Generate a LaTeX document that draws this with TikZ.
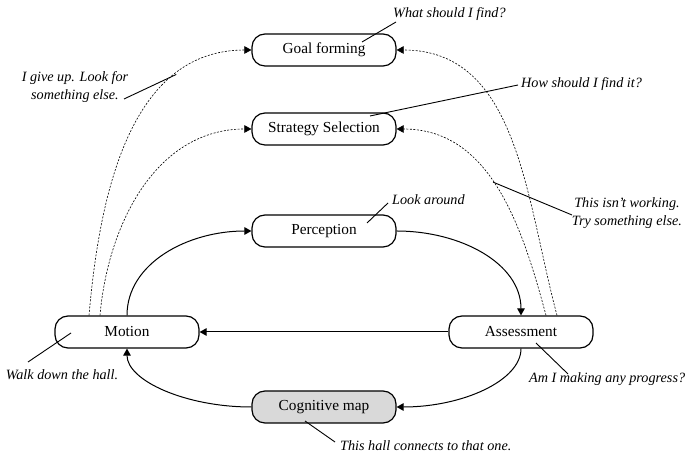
\documentclass[tikz,border=0pt]{standalone}
\usepackage{fontspec}
\setmainfont{Liberation Serif}
\usetikzlibrary{arrows.meta}
\begin{document}
\begin{tikzpicture}[x=1bp,y=1bp,
  stage/.style={draw, line width=1.2bp, rounded corners=13bp, minimum width=144bp,
    minimum height=32bp, inner sep=0pt, font=\fontsize{15.3bp}{18bp}\selectfont},
  mapstage/.style={stage, fill=black!15},
  flow/.style={line width=1bp, -{Triangle[length=7bp,width=7.5bp]}},
  retry/.style={line width=0.6bp, dash pattern=on 2bp off 1.5bp,
    -{Triangle[length=7bp,width=7.5bp]}},
  note/.style={inner sep=0pt, font=\itshape\fontsize{14.2bp}{17.5bp}\selectfont},
  pointer/.style={line width=0.9bp}]
\useasboundingbox (0,0) rectangle (686,459);

% stages of the wayfinding cycle
\node[stage]    (goal)   at (324,409) {Goal forming};
\node[stage]    (strat)  at (324,330) {Strategy Selection};
\node[stage]    (perc)   at (324,228) {Perception};
\node[stage]    (motion) at (127,127) {Motion};
\node[stage]    (assess) at (521,127) {Assessment};
\node[mapstage] (cog)    at (324,52)  {Cognitive map};

% main loop
\draw[flow] (motion.north) .. controls +(0,52) and +(-64,0) .. (perc.west);
\draw[flow] (perc.east) .. controls +(64,0) and +(0,52) .. (assess.north);
\draw[flow] (assess.west) -- (motion.east);
\draw[flow] (assess.south) .. controls +(0,-32) and +(66,0) .. (cog.east);
\draw[flow] (cog.west) .. controls +(-66,0) and +(0,-32) .. (motion.south);

% fallback paths back to planning
\draw[retry] ([xshift=-38bp]motion.north) to[out=85,in=180]
  coordinate[pos=0.75] (giveupPt) (goal.west);
\draw[retry] ([xshift=-27bp]motion.north) to[out=85,in=180] (strat.west);
\draw[retry] ([xshift=36bp]assess.north) to[out=105,in=0] (goal.east);
\draw[retry] ([xshift=25bp]assess.north) to[out=105,in=0]
  coordinate[pos=0.53] (retryPt) (strat.east);

% annotations
\node[note, anchor=west] (whatTxt) at (393,445) {What should I find?};
\coordinate (whatEnd) at (396,437);
\draw[pointer] ([shift={(38,8)}]goal.center) -- (whatEnd);

\node[note, anchor=west] (howTxt) at (521,375) {How should I find it?};
\coordinate (howEnd) at (518,374);
\draw[pointer] ([shift={(46,13)}]strat.center) -- (howEnd);

\node[note, anchor=west] (lookTxt) at (392,259) {Look around};
\coordinate (lookEnd) at (388,256);
\draw[pointer] ([shift={(43,8)}]perc.center) -- (lookEnd);

\node[note, align=center] (tryTxt) at (627,246) {This isn’t working.\\Try something else.};
\coordinate (tryEnd) at (572,244);
\draw[pointer] (retryPt) -- (tryEnd);

\node[note, align=center] (giveTxt) at (75,372) {I give up. Look for\\something else.};
\coordinate (giveEnd) at (124,360);
\draw[pointer] (giveupPt) -- (giveEnd);

\node[note] (walkTxt) at (62,84) {Walk down the hall.};
\coordinate (walkEnd) at (28,97);
\draw[pointer] ([shift={(-56,-1)}]motion.center) -- (walkEnd);

\node[note, anchor=west] (progTxt) at (529,80) {Am I making any progress?};
\coordinate (progEnd) at (568,85);
\draw[pointer] ([shift={(15,-11)}]assess.center) -- (progEnd);

\node[note, anchor=west] (hallTxt) at (340,13) {This hall connects to that one.};
\coordinate (hallEnd) at (335,17);
\draw[pointer] ([shift={(-19,-14)}]cog.center) -- (hallEnd);
\end{tikzpicture}
\end{document}
